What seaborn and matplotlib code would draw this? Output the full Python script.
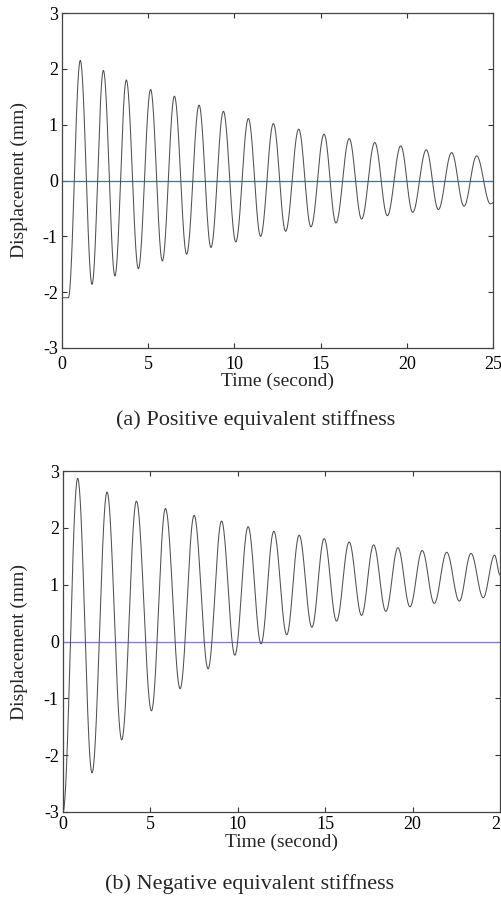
import numpy as np
import pandas as pd
import matplotlib
matplotlib.use("Agg")
import matplotlib.pyplot as plt
import seaborn as sns

# ---- data: extrema of the response (time s, displacement mm)
time_a = [0, 0.37, 1.06, 1.74, 2.40, 3.07, 3.73, 4.43, 5.14, 5.82, 6.52, 7.23, 7.95,
          8.64, 9.36, 10.08, 10.81, 11.52, 12.26, 12.97, 13.73, 14.44, 15.20, 15.89,
          16.66, 17.38, 18.14, 18.87, 19.65, 20.34, 21.13, 21.83, 22.60, 23.32, 24.05,
          24.85, 25.0]
disp_a = [-2.10, -2.10, 2.15, -1.86, 1.97, -1.71, 1.80, -1.58, 1.63, -1.44, 1.51, -1.32,
          1.35, -1.20, 1.24, -1.10, 1.11, -1.00, 1.02, -0.91, 0.92, -0.83, 0.83, -0.76,
          0.75, -0.69, 0.68, -0.63, 0.62, -0.57, 0.55, -0.52, 0.50, -0.46, 0.44, -0.42,
          -0.40]

time_b = [0, 0.84, 1.66, 2.52, 3.36, 4.20, 5.06, 5.86, 6.70, 7.50, 8.30, 9.07, 9.83,
          10.59, 11.33, 12.06, 12.80, 13.51, 14.24, 14.94, 15.65, 16.37, 17.08, 17.77,
          18.47, 19.16, 19.85, 20.55, 21.24, 21.95, 22.67, 23.34, 24.04, 24.69, 25.0]
disp_b = [-3.0, 2.87, -2.31, 2.63, -1.73, 2.47, -1.22, 2.34, -0.83, 2.22, -0.48, 2.12,
          -0.24, 2.02, -0.04, 1.94, 0.12, 1.87, 0.25, 1.81, 0.36, 1.75, 0.46, 1.70, 0.53,
          1.65, 0.61, 1.60, 0.67, 1.57, 0.71, 1.55, 0.77, 1.52, 1.17]

x_ticks = [0, 5, 10, 15, 20, 25]
y_ticks = [-3, -2, -1, 0, 1, 2, 3]
x_label = "Time (second)"
y_label = "Displacement (mm)"
captions = ["(a) Positive equivalent stiffness", "(b) Negative equivalent stiffness"]


def smooth_curve(ts, ys, n=40):
    """Join consecutive extrema with half-cosine arcs (oscillation shape)."""
    xs, vs = [], []
    for i in range(len(ts) - 1):
        s = np.linspace(0, 1, n, endpoint=(i == len(ts) - 2))
        xs.append(ts[i] + s * (ts[i + 1] - ts[i]))
        vs.append(ys[i] + (ys[i + 1] - ys[i]) * (1 - np.cos(np.pi * s)) / 2)
    return pd.DataFrame({"t": np.concatenate(xs), "d": np.concatenate(vs)})


sns.set_style("ticks")
plt.rcParams["font.family"] = ["Liberation Serif", "DejaVu Serif"]
plt.rcParams["axes.unicode_minus"] = False

W, H = 502, 901
fig = plt.figure(figsize=(W / 100, H / 100), dpi=100)
fig.patch.set_facecolor("white")

# axes boxes in pixels: left, top, right, bottom
boxes = [(62, 13, 493, 348), (63, 471, 500, 812)]
datasets = [(time_a, disp_a, "#4a5aff"), (time_b, disp_b, "#7878dd")]
caption_pos = [(256, 420), (250, 884)]
xlabel_y = [381, 842]          # pixel centre of the x label
xtick_pad = [6, 3]
ylabel_x = 19                  # pixel centre of the y label

for (l, t, r, b), (ts, ys, zc), cap, (cx, cy), xly, xpad in zip(
        boxes, datasets, captions, caption_pos, xlabel_y, xtick_pad):
    ax = fig.add_axes([l / W, (H - b) / H, (r - l) / W, (b - t) / H])
    ax.set_facecolor("white")
    ax.axhline(0, color=zc, lw=0.9, zorder=1)
    df = smooth_curve(ts, ys)
    sns.lineplot(data=df, x="t", y="d", ax=ax, color="#505050", lw=0.75,
                 sort=False, estimator=None, zorder=2)
    ax.set_xlim(0, 25)
    ax.set_ylim(-3, 3)
    ax.set_xticks(x_ticks)
    ax.set_yticks(y_ticks)
    ax.set_xticklabels([str(v) for v in x_ticks])
    ax.set_yticklabels([str(v) for v in y_ticks])
    ax.tick_params(direction="in", top=True, right=True, length=3.5, width=0.8,
                   labelsize=13, colors="#333333", labelcolor="black", pad=3)
    ax.tick_params(axis="x", pad=xpad)
    for sp in ax.spines.values():
        sp.set_color("#444444")
        sp.set_linewidth(0.9)
        sp.set_visible(True)
    ax.set_xlabel(x_label, fontsize=14, va="center")
    ax.xaxis.set_label_coords(0.5, -(xly - b) / (b - t))
    ax.set_ylabel(y_label, fontsize=14, va="center")
    ax.yaxis.set_label_coords(-(l - ylabel_x) / (r - l), 0.5)
    fig.text(cx / W, 1 - cy / H, cap, fontsize=16, ha="center", va="center")

fig.savefig("out.png", dpi=100, facecolor="white")
